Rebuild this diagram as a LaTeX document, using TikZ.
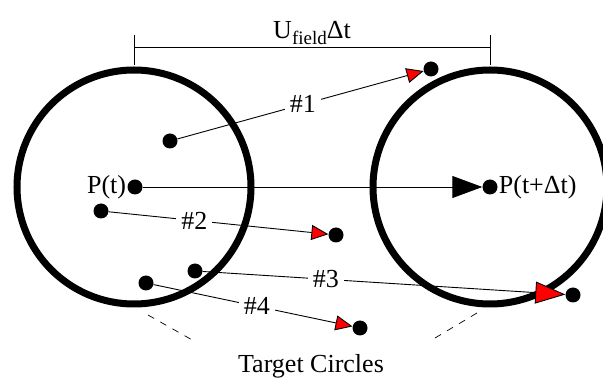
\documentclass[tikz,border=0pt]{standalone}
\usepackage{fontspec}
\setmainfont{Liberation Serif}
\usetikzlibrary{arrows.meta}

\begin{document}
\begin{tikzpicture}[
    x=1pt, y=-1pt,
    >=Latex,
    target/.style={draw, line width=7pt},
    dot/.style={circle, fill=black, inner sep=0pt, minimum size=15pt},
    tag/.style={font=\fontsize{26}{30}\selectfont},
    hop/.style={fill=white, inner sep=5pt, font=\fontsize{26}{30}\selectfont},
    drift/.style={line width=0.9pt, -{Triangle[length=17pt, width=15pt, fill=red]}},
    bigdrift/.style={line width=0.9pt, -{Triangle[length=30pt, width=22pt, fill=red]}},
    line/.style={line width=0.9pt, -{Triangle[length=30pt, width=22pt]}}
]
\useasboundingbox (0,0) rectangle (603,379);

% Target circles around the particle at t and t+dt.
\draw[target] (134,187) circle[radius=117pt];
\draw[target] (490,187) circle[radius=117pt];

% Particle positions.
\node[dot] (pt) at (135,187) {};
\node[dot] (pdt) at (490,187) {};
\node[dot] (a1) at (170,141) {};
\node[dot] (b1) at (431,69) {};
\node[dot] (a2) at (101,211) {};
\node[dot] (b2) at (336,235) {};
\node[dot] (a3) at (195,271) {};
\node[dot] (b3) at (573,295) {};
\node[dot] (a4) at (146,283) {};
\node[dot] (b4) at (360,328) {};

\node[tag, anchor=east, inner sep=1pt] (ptlabel) at (pt.west) {P(t)};
\node[tag, anchor=west, inner sep=1pt] (pdtlabel) at (pdt.east) {P(t+Δt)};

% Distance bracket.
\draw[line width=0.8pt] (134,35) -- (134,65);
\draw[line width=0.8pt] (490,35) -- (490,65);
\draw[line width=0.8pt] (134,47) -- node[tag, above, inner sep=2pt] (dist) {U{\fontsize{19}{20}\selectfont\raisebox{-0.3em}{field}}Δt} (490,47);

% Mean displacement and the individual particle moves.
\draw[line] (pt) -- (pdt);
\draw[drift] (a1) -- node[hop, pos=0.51] {\#1} (b1);
\draw[drift] (a2) -- node[hop, pos=0.39] {\#2} (b2);
\draw[bigdrift] (a3) -- node[hop, pos=0.34] {\#3} (b3);
\draw[drift] (a4) -- node[hop, pos=0.52] {\#4} (b4);

% Caption with leader lines.
\node[tag] (caption) at (311,366) {Target Circles};
\coordinate (l1) at (148,315);
\coordinate (l2) at (194,341);
\coordinate (r1) at (477,313);
\coordinate (r2) at (430,341);
\draw[line width=0.7pt, dash pattern=on 7pt off 7pt] (l1) -- (l2);
\draw[line width=0.7pt, dash pattern=on 7pt off 7pt] (r1) -- (r2);

\end{tikzpicture}
\end{document}
